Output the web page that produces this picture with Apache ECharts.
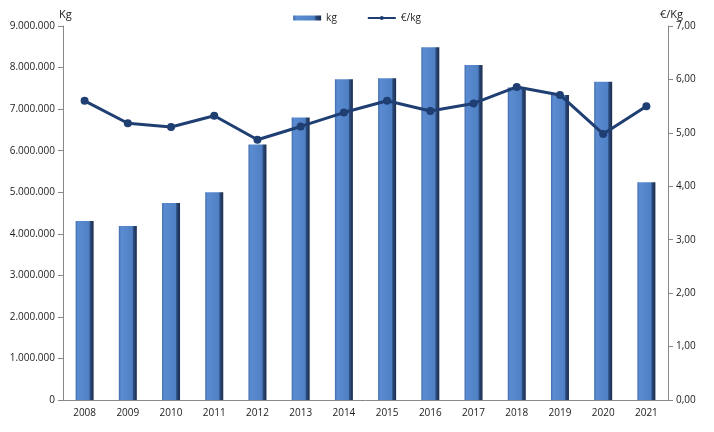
<!DOCTYPE html>
<html><head><meta charset="utf-8">
<script src="https://cdn.jsdelivr.net/npm/echarts@6/dist/echarts.min.js"></script>
<style>html,body{margin:0;padding:0;background:#fff}#c{width:714px;height:432px}</style>
</head><body><div id="c"></div>
<script>
const years = ['2008','2009','2010','2011','2012','2013','2014','2015','2016','2017','2018','2019','2020','2021'];
const kg = [4310000,4190000,4740000,5000000,6150000,6800000,7720000,7740000,8490000,8060000,7520000,7340000,7660000,5240000];
const eurKg = [5.60,5.18,5.11,5.32,4.87,5.12,5.38,5.60,5.41,5.55,5.86,5.71,4.98,5.50];

const fmtKg = v => String(Math.round(v)).replace(/\B(?=(\d{3})+(?!\d))/g, '.');
const fmtEur = v => v.toFixed(2).replace('.', ',');
const font = 'Open Sans';
const chart = echarts.init(document.getElementById('c'));
const barGrad = new echarts.graphic.LinearGradient(0,0,1,0,[
  {offset:0,color:'#3f6aa8'},{offset:0.12,color:'#5b8cd2'},{offset:0.75,color:'#4f80c4'},
  {offset:0.82,color:'#2b4a7c'},{offset:1,color:'#1b2c4c'}]);
chart.setOption({
  animation:false,
  textStyle:{fontFamily:font},
  legend:{top:8,left:'center',itemGap:30,itemWidth:28,itemHeight:5,
    textStyle:{fontSize:10,color:'#222',fontFamily:font},
    data:[{name:'kg',icon:'rect'},{name:'€/kg'}]},
  grid:{left:63,right:46,top:26,bottom:32},
  xAxis:{type:'category',data:years,
    axisLine:{lineStyle:{color:'#888'}},axisTick:{show:false},
    axisLabel:{fontSize:10,color:'#222',margin:8}},
  yAxis:[
    {type:'value',min:0,max:9000000,interval:1000000,name:'Kg',
      nameGap:6,nameTextStyle:{fontSize:11,color:'#222',align:'left',padding:[0,0,0,-4]},
      axisLine:{show:true,lineStyle:{color:'#888'}},
      axisTick:{show:true,length:5,lineStyle:{color:'#888'}},
      splitLine:{show:false},
      axisLabel:{fontSize:10,color:'#222',formatter:fmtKg,margin:8}},
    {type:'value',min:0,max:7,interval:1,name:'€/Kg',position:'right',
      nameGap:6,nameTextStyle:{fontSize:11,color:'#222',align:'left',padding:[0,0,0,-8]},
      axisLine:{show:true,lineStyle:{color:'#888'}},
      axisTick:{show:true,length:5,lineStyle:{color:'#888'}},
      splitLine:{show:false},
      axisLabel:{fontSize:10,color:'#222',formatter:fmtEur,margin:8}}
  ],
  series:[
    {name:'kg',type:'bar',data:kg,barWidth:18,yAxisIndex:0,
      itemStyle:{color:barGrad}},
    {name:'€/kg',type:'line',data:eurKg,yAxisIndex:1,symbol:'circle',symbolSize:8,
      lineStyle:{color:'#1f3f73',width:3},itemStyle:{color:'#1f3f73'}}
  ]
});
</script></body></html>
